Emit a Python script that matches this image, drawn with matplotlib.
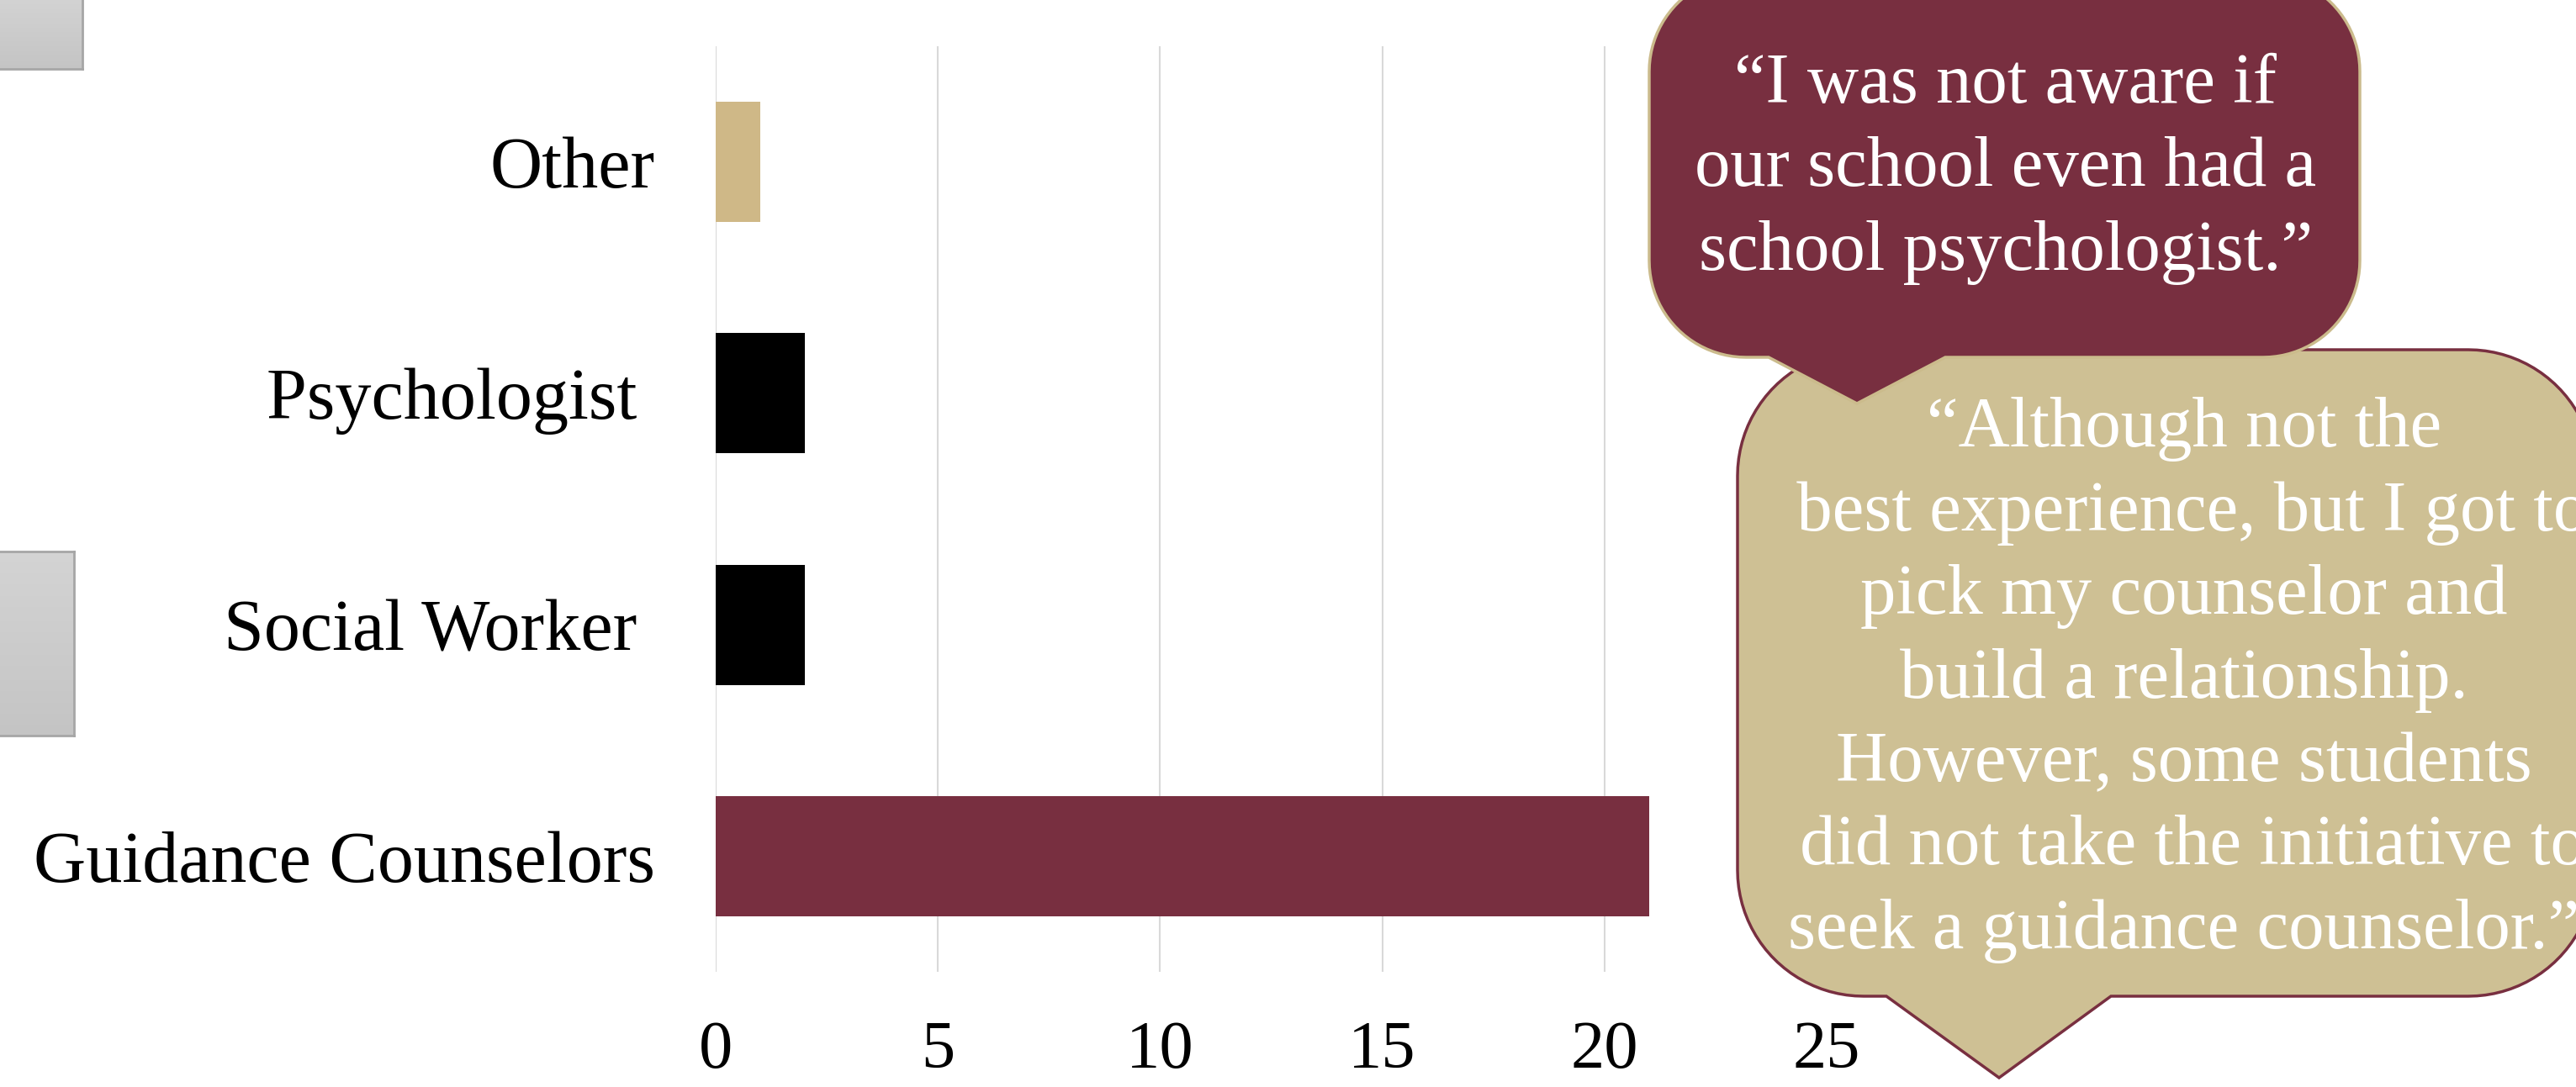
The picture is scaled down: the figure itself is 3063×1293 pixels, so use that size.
import numpy as np
import matplotlib
matplotlib.use('Agg')
import matplotlib.pyplot as plt
from matplotlib.patches import Polygon

# data
categories = ['Guidance Counselors', 'Social Worker ', 'Psychologist ', 'Other']
counts = [21, 2, 2, 1]
bar_colors = ['#782f40', '#000000', '#000000', '#cfb887']
x_ticks = [0, 5, 10, 15, 20, 25]

quote_1 = '\u201cI was not aware if\nour school even had a\nschool psychologist.\u201d'
quote_2 = ('\u201cAlthough not the\n best experience, but I got to\npick my counselor and\n'
           'build a relationship.\nHowever, some students\n did not take the initiative to\n'
           'seek a guidance counselor.\u201d')

W, H = 3063, 1293
SERIF = 'Liberation Serif'


def px(x, y):
    # pixel coords (y down) -> figure fraction
    return x / W, 1 - y / H


def callout_patch(left, top, right, bottom, r, base_l, base_r, tip_x, tip_y, **kw):
    pts = []

    def arc(cx, cy, a0, a1):
        for t in np.linspace(a0, a1, 24):
            pts.append((cx + r * np.cos(t), cy + r * np.sin(t)))

    arc(left + r, top + r, np.pi, 1.5 * np.pi)
    arc(right - r, top + r, 1.5 * np.pi, 2 * np.pi)
    arc(right - r, bottom - r, 0, 0.5 * np.pi)
    pts += [(base_r, bottom), (tip_x, tip_y), (base_l, bottom)]
    arc(left + r, bottom - r, 0.5 * np.pi, np.pi)
    verts = [px(x, y) for x, y in pts]
    return Polygon(verts, closed=True, transform=plt.gcf().transFigure, **kw)


def grey_block(fig, x0, y0, x1, y1):
    l, t = px(x0, y0)
    r, b = px(x1, y1)
    gax = fig.add_axes([l, b, r - l, t - b])
    grad = np.linspace(0.83, 0.77, 50).reshape(-1, 1)
    gax.imshow(np.dstack([grad, grad, grad]), aspect='auto', extent=[0, 1, 0, 1])
    gax.set_xticks([])
    gax.set_yticks([])
    for s in gax.spines.values():
        s.set_color('#a6a6a6')
        s.set_linewidth(2)


fig = plt.figure(figsize=(W / 100, H / 100), dpi=100)
ax = fig.add_axes([851 / W, 137 / H, (2172 - 851) / W, (1238 - 137) / H])

y = np.arange(len(categories))
ax.barh(y, counts, height=0.52, color=bar_colors, zorder=3)
ax.set_xlim(0, 25)
ax.set_ylim(-0.5, 3.5)
ax.set_xticks(x_ticks)
ax.set_yticks(y)
ax.set_yticklabels(categories)
ax.grid(axis='x', color='#d9d9d9', linewidth=1.5, zorder=0)
for s in ax.spines.values():
    s.set_visible(False)
ax.tick_params(axis='x', length=0, pad=42, labelsize=58)
ax.tick_params(axis='y', length=0, pad=52, labelsize=62)
for lab in ax.get_xticklabels() + ax.get_yticklabels():
    lab.set_fontfamily(SERIF)

# grey blocks at the left edge
grey_block(fig, -5, -5, 98, 82)
grey_block(fig, -5, 656, 88, 875)

# speech bubbles
fig.add_artist(callout_patch(2066, 416, 3085, 1185, 150, 2243, 2510, 2377, 1282,
                             facecolor='#cec094', edgecolor='#782f40', linewidth=2.5, zorder=5))
fig.add_artist(callout_patch(1961, -30, 2806, 425, 115, 2103, 2313, 2208, 480,
                             facecolor='#782f40', edgecolor='#cbbb8c', linewidth=2.5, zorder=6))

tx, ty = px(2385, 201)
fig.text(tx, ty, quote_1, ha='center', va='center', color='white', fontsize=61,
         family=SERIF, linespacing=1.38, zorder=7)
tx, ty = px(2597, 809)
fig.text(tx, ty, quote_2, ha='center', va='center', color='white', fontsize=61,
         family=SERIF, linespacing=1.38, zorder=7)

fig.savefig('out.png', dpi=100)
